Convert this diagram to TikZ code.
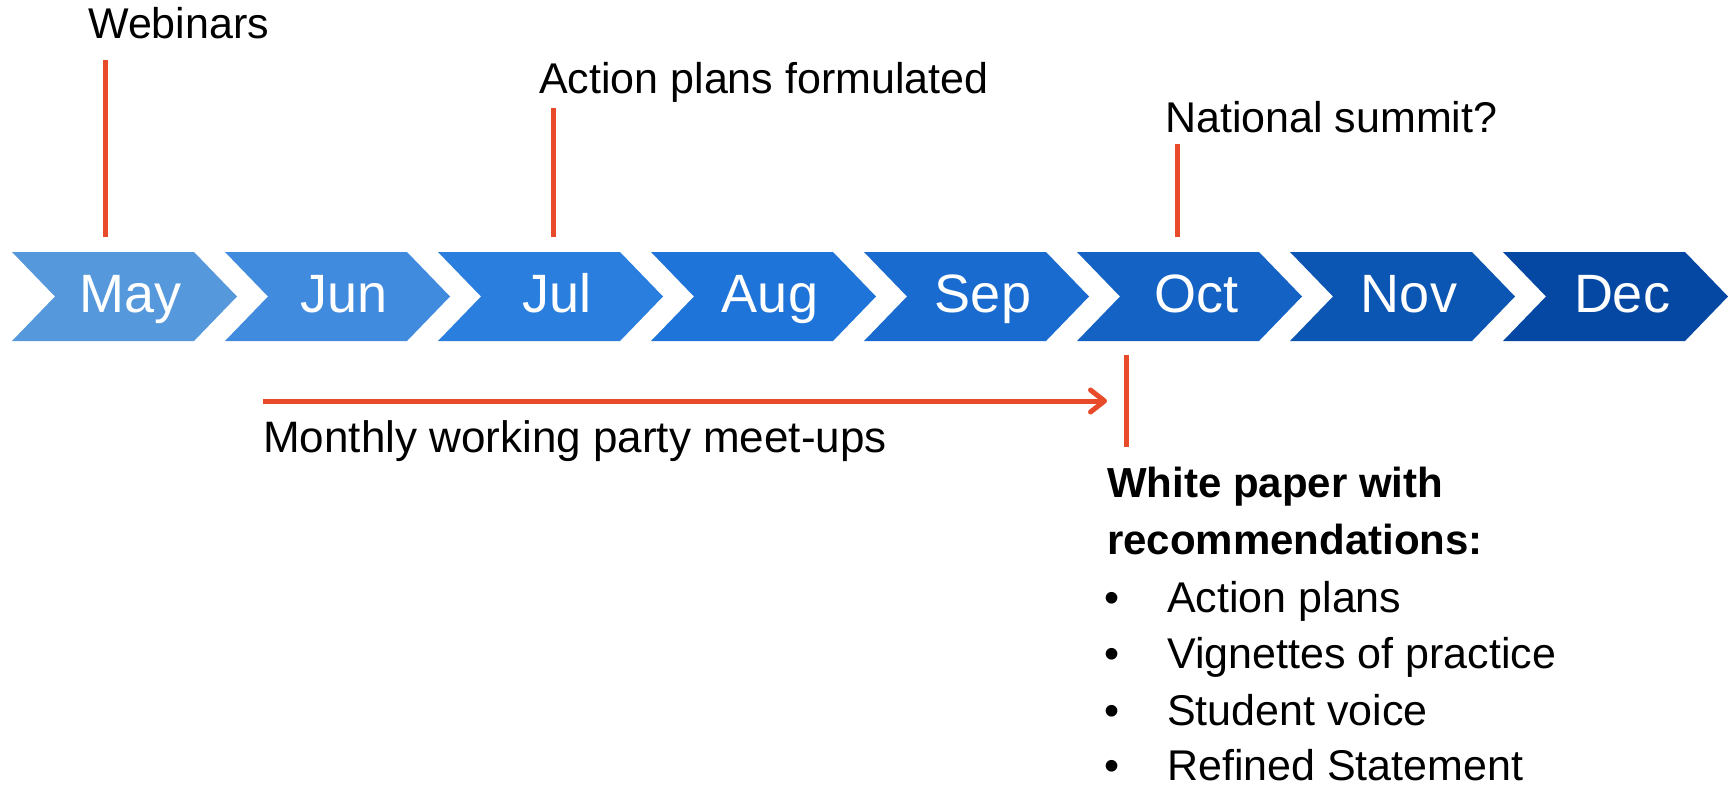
\documentclass[tikz,border=0pt]{standalone}
\usepackage{fontspec}
\setmainfont{Liberation Sans}
\usetikzlibrary{arrows.meta}
\definecolor{accent}{HTML}{E84B2A}
\definecolor{c0}{RGB}{86,152,220}
\definecolor{c1}{RGB}{65,139,222}
\definecolor{c2}{RGB}{42,127,222}
\definecolor{c3}{RGB}{30,116,216}
\definecolor{c4}{RGB}{25,107,207}
\definecolor{c5}{RGB}{20,98,196}
\definecolor{c6}{RGB}{11,85,179}
\definecolor{c7}{RGB}{4,72,163}
\begin{document}
\begin{tikzpicture}[x=1pt,y=-1pt,
  txt/.style={font=\fontsize{43}{57.4}\selectfont, inner sep=0pt, anchor=base west},
  mon/.style={font=\fontsize{54}{60}\selectfont, text=white, inner sep=0pt, anchor=base},
  tick/.style={draw=accent, line width=5pt},
]
\useasboundingbox (0,0) rectangle (1733,788);
\foreach \i/\m in {0/May,1/Jun,2/Jul,3/Aug,4/Sep,5/Oct,6/Nov,7/Dec} {
  \pgfmathsetmacro\L{12+213*\i}
  \fill[c\i] (\L,252) -- (\L+182,252) -- (\L+225,296.5) -- (\L+182,341) -- (\L,341) -- (\L+43,296.5) -- cycle;
  \node[mon] (m\i) at (\L+119,312) {\m};
}
% labels above
\node[txt] (web) at (88,38) {Webinars};
\node[txt] (act) at (539,93) {Action plans formulated};
\node[txt] (nat) at (1165,132) {National summit?};
% tick lines
\coordinate (webT) at (105.5,60);  \coordinate (webB) at (105.5,237);
\coordinate (actT) at (553,108);   \coordinate (actB) at (553,237);
\coordinate (natT) at (1177,144);  \coordinate (natB) at (1177,237);
\coordinate (wpT) at (1126,355);   \coordinate (wpB) at (1126,447);
\draw[tick] (webT) -- (webB);
\draw[tick] (actT) -- (actB);
\draw[tick] (natT) -- (natB);
\draw[tick] (wpT) -- (wpB);
% arrow
\coordinate (arS) at (263,401);
\coordinate (arE) at (1107,401);
\draw[tick, -{Straight Barb[length=14pt,width=22pt,line cap=round,line join=round]}] (arS) -- (arE);
\node[txt, font=\fontsize{44}{57.4}\selectfont] (meet) at (263,452) {Monthly working party meet-ups};
% white paper
\node[txt, font=\fontsize{42}{57.4}\selectfont] (wp1) at (1107,497) {\bfseries White paper with};
\node[txt, font=\fontsize{42}{57.4}\selectfont] (wp2) at (1107,554) {\bfseries recommendations:};
\foreach \y/\t [count=\k] in {612/Action plans,668/Vignettes of practice,725/Student voice,780/Refined Statement} {
  \node[txt] (b\k) at (1104,\y) {\textbullet};
  \node[txt] (it\k) at (1167,\y) {\t};
}
\end{tikzpicture}
\end{document}
